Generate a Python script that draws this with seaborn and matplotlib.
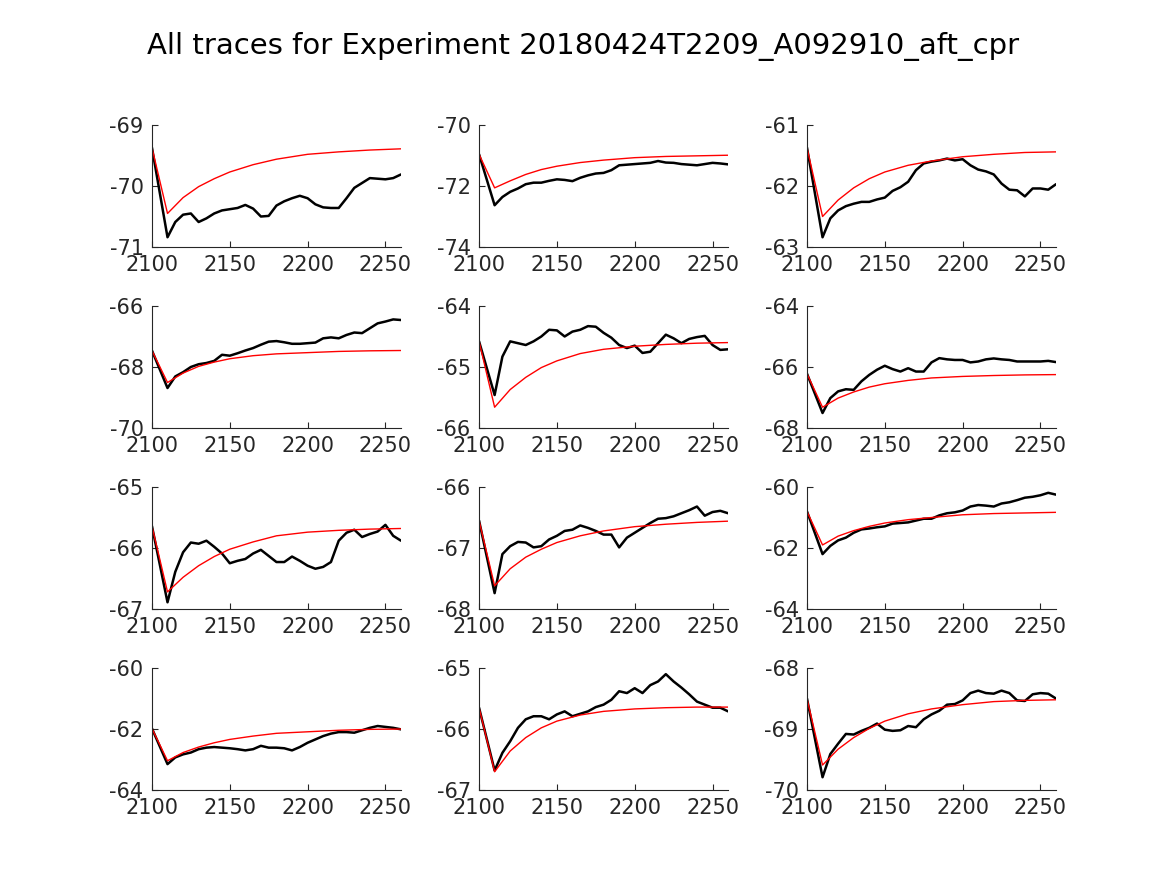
import numpy as np
import matplotlib
matplotlib.use("Agg")
import matplotlib.pyplot as plt
import seaborn as sns

sns.set_theme(style="ticks")
plt.rcParams['font.family'] = ['DejaVu Sans']

title = "All traces for Experiment 20180424T2209_A092910_aft_cpr"

# sample times for the recorded traces and the fitted curves
t_trace = [2100, 2110, 2115, 2120, 2125, 2130, 2135, 2140, 2145, 2150, 2155,
           2160, 2165, 2170, 2175, 2180, 2185, 2190, 2195, 2200, 2205, 2210,
           2215, 2220, 2225, 2230, 2235, 2240, 2245, 2250, 2255, 2260]
t_fit = [2100, 2110, 2120, 2130, 2140, 2150, 2165, 2180, 2200, 2220, 2240, 2260]

trace_1 = [-69.37, -70.84, -70.59, -70.47, -70.45, -70.59, -70.53, -70.45, -70.40, -70.38, -70.36,
           -70.31, -70.37, -70.50, -70.49, -70.32, -70.25, -70.20, -70.16, -70.20, -70.30, -70.35,
           -70.36, -70.36, -70.20, -70.03, -69.95, -69.87, -69.88, -69.89, -69.87, -69.81]
fit_1 = [-69.37, -70.45, -70.19, -70.01, -69.88, -69.77, -69.65, -69.56, -69.48, -69.44, -69.41, -69.39]

trace_2 = [-70.96, -72.63, -72.36, -72.19, -72.08, -71.94, -71.89, -71.89, -71.83, -71.78, -71.80,
           -71.84, -71.73, -71.65, -71.59, -71.57, -71.48, -71.32, -71.30, -71.28, -71.26, -71.24,
           -71.18, -71.23, -71.24, -71.28, -71.30, -71.32, -71.28, -71.24, -71.26, -71.29]
fit_2 = [-70.96, -72.06, -71.83, -71.62, -71.46, -71.35, -71.23, -71.15, -71.07, -71.03, -71.01, -70.99]

trace_3 = [-61.37, -62.84, -62.53, -62.40, -62.33, -62.29, -62.26, -62.26, -62.22, -62.19, -62.08,
           -62.02, -61.93, -61.74, -61.63, -61.60, -61.58, -61.55, -61.58, -61.56, -61.66, -61.73,
           -61.76, -61.81, -61.96, -62.06, -62.07, -62.17, -62.04, -62.04, -62.06, -61.97]
fit_3 = [-61.37, -62.50, -62.23, -62.03, -61.88, -61.77, -61.66, -61.59, -61.52, -61.48, -61.45, -61.44]

trace_4 = [-67.46, -68.69, -68.31, -68.17, -68.00, -67.91, -67.87, -67.80, -67.60, -67.63, -67.55,
           -67.46, -67.38, -67.27, -67.17, -67.15, -67.19, -67.24, -67.24, -67.22, -67.20, -67.06,
           -67.03, -67.06, -66.95, -66.87, -66.89, -66.73, -66.57, -66.51, -66.44, -66.46]
fit_4 = [-67.46, -68.51, -68.20, -67.98, -67.84, -67.73, -67.63, -67.57, -67.53, -67.49, -67.47, -67.46]

trace_5 = [-64.58, -65.46, -64.83, -64.58, -64.61, -64.64, -64.58, -64.50, -64.39, -64.40, -64.50,
           -64.42, -64.39, -64.33, -64.34, -64.44, -64.52, -64.64, -64.69, -64.65, -64.77, -64.75,
           -64.61, -64.47, -64.53, -64.61, -64.54, -64.51, -64.49, -64.64, -64.72, -64.71]
fit_5 = [-64.58, -65.66, -65.37, -65.17, -65.01, -64.90, -64.78, -64.71, -64.66, -64.63, -64.61, -64.60]

trace_6 = [-66.22, -67.51, -67.02, -66.80, -66.73, -66.75, -66.47, -66.26, -66.09, -65.96, -66.07,
           -66.15, -66.04, -66.15, -66.15, -65.85, -65.71, -65.75, -65.77, -65.77, -65.85, -65.82,
           -65.75, -65.72, -65.75, -65.77, -65.82, -65.82, -65.82, -65.82, -65.80, -65.84]
fit_6 = [-66.22, -67.32, -67.02, -66.82, -66.66, -66.55, -66.44, -66.36, -66.31, -66.28, -66.26, -66.25]

trace_7 = [-65.64, -66.89, -66.39, -66.07, -65.91, -65.93, -65.88, -65.98, -66.09, -66.25, -66.21,
           -66.18, -66.09, -66.03, -66.13, -66.23, -66.23, -66.14, -66.21, -66.29, -66.34, -66.31,
           -66.23, -65.88, -65.75, -65.70, -65.82, -65.77, -65.73, -65.62, -65.80, -65.88]
fit_7 = [-65.64, -66.72, -66.48, -66.29, -66.14, -66.02, -65.90, -65.80, -65.74, -65.71, -65.69, -65.68]

trace_8 = [-66.55, -67.74, -67.10, -66.97, -66.90, -66.91, -66.99, -66.97, -66.86, -66.80, -66.72,
           -66.70, -66.63, -66.67, -66.72, -66.78, -66.78, -66.99, -66.83, -66.75, -66.67, -66.59,
           -66.52, -66.51, -66.48, -66.43, -66.38, -66.32, -66.47, -66.41, -66.39, -66.43]
fit_8 = [-66.55, -67.62, -67.34, -67.15, -67.02, -66.91, -66.80, -66.72, -66.65, -66.61, -66.58, -66.56]

trace_9 = [-60.80, -62.20, -61.93, -61.75, -61.66, -61.50, -61.39, -61.36, -61.32, -61.29, -61.20,
           -61.18, -61.16, -61.10, -61.04, -61.04, -60.93, -60.86, -60.83, -60.77, -60.64, -60.59,
           -60.61, -60.64, -60.54, -60.50, -60.43, -60.35, -60.32, -60.27, -60.19, -60.25]
fit_9 = [-60.80, -61.90, -61.61, -61.43, -61.29, -61.18, -61.07, -61.00, -60.91, -60.87, -60.85, -60.83]

trace_10 = [-61.98, -63.15, -62.93, -62.83, -62.77, -62.66, -62.61, -62.59, -62.61, -62.63, -62.66,
            -62.70, -62.66, -62.55, -62.61, -62.61, -62.63, -62.70, -62.59, -62.45, -62.34, -62.23,
            -62.15, -62.10, -62.10, -62.12, -62.04, -61.96, -61.90, -61.93, -61.96, -62.01]
fit_10 = [-61.98, -63.04, -62.77, -62.59, -62.45, -62.34, -62.23, -62.14, -62.09, -62.04, -62.01, -62.00]

trace_11 = [-65.65, -66.68, -66.39, -66.20, -65.98, -65.84, -65.79, -65.79, -65.84, -65.76, -65.71,
            -65.79, -65.75, -65.71, -65.64, -65.60, -65.52, -65.38, -65.41, -65.33, -65.41, -65.28,
            -65.22, -65.10, -65.22, -65.32, -65.43, -65.55, -65.60, -65.65, -65.65, -65.71]
fit_11 = [-65.65, -66.70, -66.36, -66.14, -65.98, -65.87, -65.77, -65.71, -65.67, -65.65, -65.64, -65.64]

trace_12 = [-68.50, -69.79, -69.41, -69.24, -69.08, -69.09, -69.03, -68.98, -68.91, -69.01, -69.03,
            -69.02, -68.95, -68.97, -68.84, -68.76, -68.70, -68.60, -68.59, -68.53, -68.41, -68.37,
            -68.41, -68.42, -68.37, -68.41, -68.53, -68.54, -68.43, -68.41, -68.42, -68.50]
fit_12 = [-68.50, -69.59, -69.33, -69.14, -68.99, -68.87, -68.75, -68.67, -68.60, -68.55, -68.53, -68.52]

traces = [trace_1, trace_2, trace_3, trace_4, trace_5, trace_6,
          trace_7, trace_8, trace_9, trace_10, trace_11, trace_12]
fits = [fit_1, fit_2, fit_3, fit_4, fit_5, fit_6,
        fit_7, fit_8, fit_9, fit_10, fit_11, fit_12]
ylims = [(-71, -69), (-74, -70), (-63, -61),
         (-70, -66), (-66, -64), (-68, -64),
         (-67, -65), (-68, -66), (-64, -60),
         (-64, -60), (-67, -65), (-70, -68)]
xticks = [2100, 2150, 2200, 2250]

fig = plt.figure(figsize=(11.67, 8.75), dpi=100)
lefts = [0.1302, 0.4105, 0.6915]
bottoms = [0.7177, 0.5109, 0.3040, 0.0971]
w, h = 0.2134, 0.1394
ink = "#262626"

for i in range(12):
    r, c = divmod(i, 3)
    ax = fig.add_axes([lefts[c], bottoms[r], w, h])
    sns.lineplot(x=t_trace, y=traces[i], ax=ax, color="black", lw=1.8, sort=False)
    sns.lineplot(x=t_fit, y=fits[i], ax=ax, color="red", lw=1.0, sort=False)
    lo, hi = ylims[i]
    ax.set_xlim(2100, 2260)
    ax.set_ylim(lo, hi)
    ax.set_xticks(xticks)
    ax.set_yticks([lo, (lo + hi) / 2, hi])
    ax.set_yticklabels([f"{v:g}" for v in [lo, (lo + hi) / 2, hi]])
    sns.despine(ax=ax)
    for s in ["left", "bottom"]:
        ax.spines[s].set_color(ink)
        ax.spines[s].set_linewidth(0.8)
    ax.tick_params(direction="in", length=4, width=0.8, colors=ink,
                   labelsize=15, pad=6)
    ax.set_xlabel("")
    ax.set_ylabel("")

fig.text(0.5, 0.947, title, ha="center", va="center", fontsize=21, color="black")
fig.savefig("out.png", dpi=100, facecolor="white")
